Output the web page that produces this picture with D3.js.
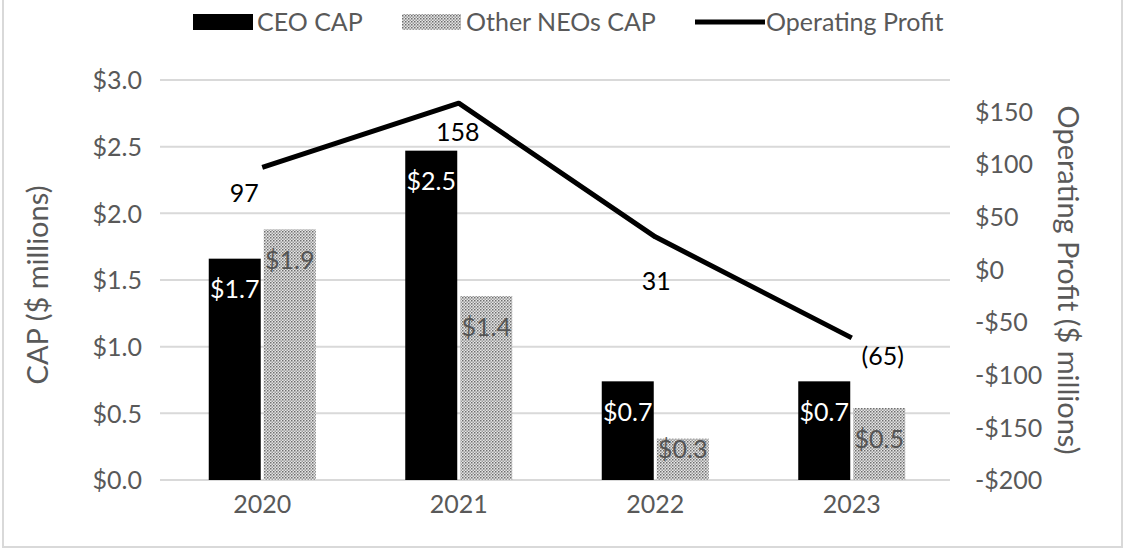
<!DOCTYPE html>
<html><head><meta charset="utf-8">
<script src="https://cdn.jsdelivr.net/npm/d3@7"></script>
<style>
html,body{margin:0;padding:0;background:#fff;}
svg{display:block;}
text{font-family:Lato,"Open Sans",sans-serif;}
</style></head>
<body>
<svg id="chart" width="1126" height="550"></svg>
<script>
const years = ["2020","2021","2022","2023"];
const ceoCap = [1.66, 2.47, 0.74, 0.74];
const otherNeoCap = [1.88, 1.38, 0.31, 0.54];
const operatingProfit = [97, 158, 31, -65];
const leftTicks = [0, 0.5, 1.0, 1.5, 2.0, 2.5, 3.0];
const rightTicks = [-200, -150, -100, -50, 0, 50, 100, 150];
const seriesNames = ["CEO CAP", "Other NEOs CAP", "Operating Profit"];

const svg = d3.select("#chart");
const textColor = "#595959";
const gridColor = "#d9d9d9";
const fontSize = 25;
const titleSize = 29;
const legendSize = 25;

// frame
svg.append("rect").attr("x",3).attr("y",-2).attr("width",1119).attr("height",549)
  .attr("fill","#fff").attr("stroke","#d9d9d9").attr("stroke-width",2);

// pattern
const defs = svg.append("defs");
const pat = defs.append("pattern").attr("id","dots").attr("patternUnits","userSpaceOnUse")
  .attr("width",3).attr("height",3);
pat.append("rect").attr("width",3).attr("height",3).attr("fill","#e6e6e6");
pat.append("rect").attr("x",0).attr("y",0).attr("width",1.5).attr("height",1.5).attr("fill","#6e6e6e");
pat.append("rect").attr("x",1.5).attr("y",1.5).attr("width",1.5).attr("height",1.5).attr("fill","#9a9a9a");

const plot = {left:164, right:950, top:80, bottom:480};
const x = d3.scaleBand().domain(years).range([plot.left, plot.right]);
const yL = d3.scaleLinear().domain([0,3]).range([plot.bottom, plot.top]);
const yR = d3.scaleLinear().domain([-200,180]).range([plot.bottom, plot.top]);

// gridlines
svg.append("g").selectAll("line").data(leftTicks).join("line")
  .attr("x1",plot.left-4).attr("x2",plot.right)
  .attr("y1",d=>yL(d)).attr("y2",d=>yL(d))
  .attr("stroke",gridColor).attr("stroke-width",2);

// left axis
const leftAxis = d3.axisLeft(yL).tickValues(leftTicks).tickSize(0).tickPadding(22)
  .tickFormat(d=>"$"+d3.format(".1f")(d));
const gL = svg.append("g").attr("transform",`translate(${plot.left},0)`).call(leftAxis);
gL.select(".domain").remove();
gL.selectAll("text").attr("fill",textColor).style("font-size",fontSize+"px").attr("dy","0.35em");

// right axis
const rightAxis = d3.axisRight(yR).tickValues(rightTicks).tickSize(0).tickPadding(25)
  .tickFormat(d=> d<0 ? "-$"+Math.abs(d) : "$"+d);
const gR = svg.append("g").attr("transform",`translate(${plot.right},0)`).call(rightAxis);
gR.select(".domain").remove();
gR.selectAll("text").attr("fill",textColor).style("font-size",fontSize+"px").attr("dy","0.35em");

// x axis
const xAxis = d3.axisBottom(x).tickSize(0).tickPadding(24);
const gX = svg.append("g").attr("transform",`translate(0,${plot.bottom})`).call(xAxis);
gX.select(".domain").remove();
gX.selectAll("text").attr("fill",textColor).style("font-size",fontSize+"px").attr("dy","0.35em");

// bars
const bw = 52, gap = 3;
const fmt = d=>"$"+d3.format(".1f")(d);
const barsCeo = svg.append("g");
years.forEach((yr,i)=>{
  const c = x(yr)+x.bandwidth()/2;
  barsCeo.append("rect").attr("x",c-bw-gap/2).attr("y",yL(ceoCap[i]))
    .attr("width",bw).attr("height",yL(0)-yL(ceoCap[i])).attr("fill","#000");
  barsCeo.append("rect").attr("x",c+gap/2).attr("y",yL(otherNeoCap[i]))
    .attr("width",bw).attr("height",yL(0)-yL(otherNeoCap[i])).attr("fill","url(#dots)");
});
// bar labels
years.forEach((yr,i)=>{
  const c = x(yr)+x.bandwidth()/2;
  const ly1 = Math.min(yL(ceoCap[i])+31, yL(0)-31);
  svg.append("text").attr("x",c-gap/2-bw/2).attr("y",ly1).attr("dy","0.35em")
    .attr("text-anchor","middle").attr("fill","#fff").style("font-size",fontSize+"px")
    .text(fmt(ceoCap[i]));
  const ly2 = Math.min(yL(otherNeoCap[i])+31, yL(0)-31);
  svg.append("text").attr("x",c+gap/2+bw/2).attr("y",ly2).attr("dy","0.35em")
    .attr("text-anchor","middle").attr("fill","#555").style("font-size",fontSize+"px")
    .text(fmt(otherNeoCap[i]));
});

// line
const line = d3.line().x((d,i)=>x(years[i])+x.bandwidth()/2).y(d=>yR(d));
svg.append("path").datum(operatingProfit).attr("d",line)
  .attr("fill","none").attr("stroke","#000").attr("stroke-width",5).attr("stroke-linejoin","round");

// line labels (placement offsets)
const lblOff = [[-18,26],[-1,29],[1,44],[31,18]];
operatingProfit.forEach((v,i)=>{
  const px = x(years[i])+x.bandwidth()/2, py = yR(v);
  svg.append("text").attr("x",px+lblOff[i][0]).attr("y",py+lblOff[i][1]).attr("dy","0.35em")
    .attr("text-anchor","middle").attr("fill","#000").style("font-size",fontSize+"px")
    .text(v<0 ? "("+Math.abs(v)+")" : v);
});

// axis titles
svg.append("text").attr("transform","translate(38,285) rotate(-90)").attr("text-anchor","middle")
  .attr("dy","0.35em").attr("fill",textColor).style("font-size",titleSize+"px").text("CAP ($ millions)");
svg.append("text").attr("transform","translate(1068,280) rotate(90)").attr("text-anchor","middle")
  .attr("dy","0.35em").attr("fill",textColor).style("font-size",titleSize+"px").text("Operating Profit ($ millions)");

// legend
const lg = svg.append("g");
lg.append("rect").attr("x",193).attr("y",14).attr("width",60).attr("height",16).attr("fill","#000");
lg.append("text").attr("x",257).attr("y",22).attr("dy","0.35em").attr("fill",textColor)
  .style("font-size",legendSize+"px").text(seriesNames[0]);
lg.append("rect").attr("x",402).attr("y",14).attr("width",59).attr("height",16).attr("fill","url(#dots)");
lg.append("text").attr("x",466).attr("y",22).attr("dy","0.35em").attr("fill",textColor)
  .style("font-size",legendSize+"px").text(seriesNames[1]);
lg.append("line").attr("x1",695).attr("x2",765).attr("y1",22).attr("y2",22)
  .attr("stroke","#000").attr("stroke-width",5);
lg.append("text").attr("x",766).attr("y",22).attr("dy","0.35em").attr("fill",textColor)
  .style("font-size",legendSize+"px").text(seriesNames[2]);
</script>
</body></html>
